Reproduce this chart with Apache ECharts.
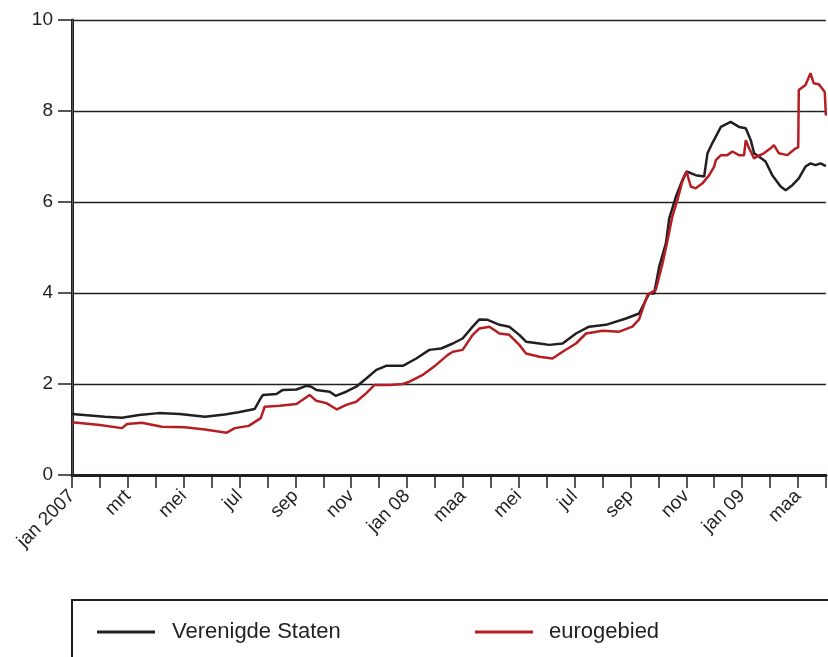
<!DOCTYPE html>
<html>
<head>
<meta charset="utf-8">
<script src="https://cdn.jsdelivr.net/npm/echarts@6/dist/echarts.min.js"></script>
<style>
  html, body { margin: 0; padding: 0; background: #fff; }
  #chart { width: 828px; height: 657px; }
</style>
</head>
<body>
<div id="chart"></div>
<script>
// x = months since jan 2007 (uniform month spacing as in the source chart)
const monthLabels = ['jan 2007', '', 'mrt', '', 'mei', '', 'jul', '', 'sep', '', 'nov', '',
  'jan 08', '', 'maa', '', 'mei', '', 'jul', '', 'sep', '', 'nov', '',
  'jan 09', '', 'maa', ''];

// Verenigde Staten
const usMonths = [0, 1.18, 1.79, 2.40, 3.10, 3.86, 4.76, 5.47, 5.96, 6.54, 6.76, 6.84, 7.32, 7.55,
  8.04, 8.39, 8.57, 8.75, 9.23, 9.44, 9.82, 10.18, 10.54, 10.90, 11.25, 11.85, 12.33, 12.80,
  13.22, 13.64, 13.99, 14.35, 14.59, 14.89, 15.31, 15.66, 16.02, 16.26, 16.74, 17.09, 17.57,
  18.05, 18.52, 19.12, 19.84, 20.31, 20.67, 20.85, 21.03, 21.27, 21.39, 21.63, 21.86, 22.01,
  22.34, 22.64, 22.76, 22.93, 23.24, 23.59, 23.89, 24.13, 24.31, 24.43, 24.60, 24.84, 25.08,
  25.38, 25.56, 25.80, 26.03, 26.27, 26.45, 26.63, 26.81, 27.0];
const usValues = [1.34, 1.28, 1.26, 1.32, 1.36, 1.34, 1.28, 1.33, 1.38, 1.45, 1.69, 1.76, 1.78, 1.87,
  1.88, 1.96, 1.94, 1.87, 1.83, 1.74, 1.83, 1.94, 2.12, 2.31, 2.40, 2.40, 2.56, 2.75,
  2.78, 2.89, 3.00, 3.26, 3.42, 3.41, 3.30, 3.26, 3.08, 2.93, 2.89, 2.86, 2.89,
  3.11, 3.26, 3.30, 3.44, 3.55, 3.99, 3.99, 4.58, 5.09, 5.64, 6.12, 6.48, 6.67,
  6.59, 6.56, 7.07, 7.29, 7.65, 7.76, 7.65, 7.62, 7.36, 7.07, 7.00, 6.89, 6.59,
  6.34, 6.26, 6.37, 6.52, 6.78, 6.85, 6.81, 6.85, 6.79];

// eurogebied
const euMonths = [0, 1.0, 1.79, 1.97, 2.50, 3.22, 4.04, 4.76, 5.54, 5.83, 6.33, 6.76, 6.90, 7.44,
  8.04, 8.33, 8.51, 8.75, 9.11, 9.49, 9.82, 10.18, 10.54, 10.84, 11.37, 11.85, 12.09, 12.56,
  13.04, 13.46, 13.64, 13.99, 14.35, 14.59, 14.95, 15.31, 15.66, 16.02, 16.26, 16.74, 17.21,
  17.57, 18.05, 18.41, 19.00, 19.60, 20.07, 20.31, 20.61, 20.91, 21.15, 21.33, 21.50, 21.68,
  21.86, 22.01, 22.16, 22.34, 22.58, 22.82, 23.00, 23.06, 23.24, 23.47, 23.65, 23.89, 24.07,
  24.13, 24.25, 24.43, 24.54, 24.78, 25.02, 25.14, 25.32, 25.62, 25.92, 26.01, 26.03, 26.27,
  26.45, 26.56, 26.74, 26.86, 26.96, 27.0];
const euValues = [1.16, 1.10, 1.03, 1.12, 1.15, 1.06, 1.05, 1.00, 0.93, 1.03, 1.08, 1.25, 1.50, 1.52,
  1.56, 1.68, 1.76, 1.63, 1.58, 1.44, 1.54, 1.61, 1.80, 1.98, 1.98, 2.00, 2.05, 2.20,
  2.42, 2.64, 2.71, 2.75, 3.08, 3.22, 3.26, 3.11, 3.08, 2.86, 2.67, 2.60, 2.56,
  2.71, 2.89, 3.11, 3.17, 3.15, 3.26, 3.42, 3.96, 4.07, 4.65, 5.16, 5.68, 6.04,
  6.45, 6.67, 6.34, 6.30, 6.41, 6.59, 6.78, 6.92, 7.03, 7.03, 7.11, 7.03, 7.03,
  7.36, 7.18, 6.96, 7.00, 7.07, 7.18, 7.25, 7.07, 7.03, 7.18, 7.20, 8.46, 8.57,
  8.83, 8.61, 8.59, 8.50, 8.42, 7.90];

const INK = '#231f20';
const RED = '#b51f24';
const FONT = 'Liberation Sans, Arial, sans-serif';

const chart = echarts.init(document.getElementById('chart'));

const toPairs = (xs, ys) => xs.map((x, i) => [x, ys[i]]);

const option = {
  animation: false,
  textStyle: { fontFamily: FONT, color: INK },
  grid: { left: 72, right: 1, top: 20, bottom: 182 },
  graphic: [{
    type: 'rect',
    shape: { x: 72, y: 600, width: 800, height: 100 },
    style: { fill: 'none', stroke: INK, lineWidth: 2 }
  }],
  legend: [
    {
      data: ['Verenigde Staten'],
      left: 97, top: 621, padding: 0,
      icon: 'rect', itemWidth: 58, itemHeight: 3,
      textStyle: { fontSize: 22, color: INK, fontFamily: FONT, padding: [0, 0, 0, 12] }
    },
    {
      data: ['eurogebied'],
      left: 475, top: 621, padding: 0,
      icon: 'rect', itemWidth: 58, itemHeight: 3,
      textStyle: { fontSize: 22, color: INK, fontFamily: FONT, padding: [0, 0, 0, 11] }
    }
  ],
  xAxis: [
    {
      type: 'value',
      min: 0, max: 27, interval: 1,
      axisLine: { lineStyle: { color: INK, width: 3 } },
      axisTick: { show: true, length: 13, lineStyle: { color: INK, width: 1.5 } },
      axisLabel: {
        rotate: 45, margin: 18, fontSize: 19, color: INK, fontFamily: FONT,
        showMinLabel: true, showMaxLabel: true,
        formatter: v => monthLabels[Math.round(v)] || ''
      },
      splitLine: { show: false }
    },
    {
      type: 'value', position: 'top',
      min: 0, max: 27,
      axisLine: { show: true, lineStyle: { color: INK, width: 2.5 } },
      axisTick: { show: false }, axisLabel: { show: false }, splitLine: { show: false }
    }
  ],
  yAxis: [
    {
      type: 'value',
      min: 0, max: 10, interval: 2,
      axisLine: { show: true, lineStyle: { color: INK, width: 3 } },
      axisTick: { show: true, length: 14, lineStyle: { color: INK, width: 1.5 } },
      axisLabel: { margin: 19, fontSize: 19, color: INK, fontFamily: FONT },
      splitLine: { show: true, lineStyle: { color: INK, width: 1.3 } }
    },
    {
      type: 'value', position: 'right',
      min: 0, max: 10,
      axisLine: { show: true, lineStyle: { color: '#555', width: 1 } },
      axisTick: { show: false }, axisLabel: { show: false }, splitLine: { show: false }
    }
  ],
  series: [
    {
      name: 'Verenigde Staten',
      type: 'line',
      data: toPairs(usMonths, usValues),
      showSymbol: false,
      color: INK,
      lineStyle: { color: INK, width: 2.5 },
      z: 3
    },
    {
      name: 'eurogebied',
      type: 'line',
      data: toPairs(euMonths, euValues),
      showSymbol: false,
      color: RED,
      lineStyle: { color: RED, width: 2.5 },
      z: 4
    }
  ]
};

chart.setOption(option);
</script>
</body>
</html>
